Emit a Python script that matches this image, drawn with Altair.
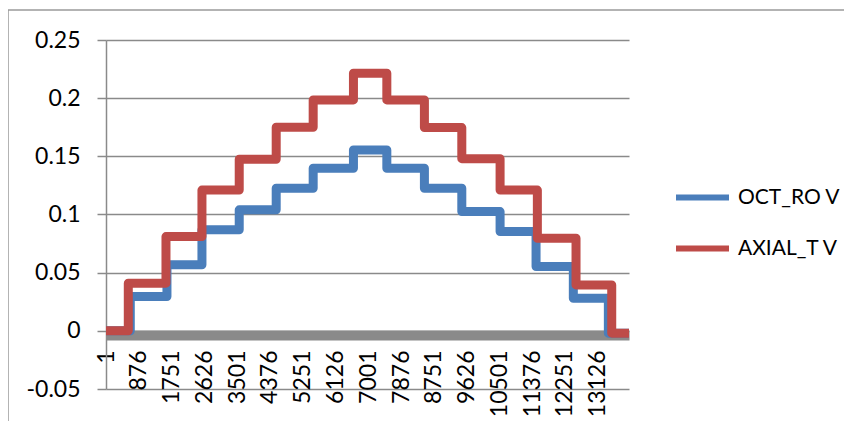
import altair as alt
import pandas as pd

# Series values (step levels and the sample index where each level starts)
oct_idx = [1, 649, 1628, 2562, 3557, 4544, 5531, 6606, 7497, 8500, 9498, 10520, 11480, 12475, 13410, 13961]
oct_val = [0.0, 0.0295, 0.0567, 0.0868, 0.104, 0.1226, 0.1398, 0.1555, 0.1398, 0.1226, 0.1025, 0.0853, 0.0552, 0.028, -0.002, -0.002]

axial_idx = [1, 596, 1602, 2562, 3557, 4544, 5531, 6606, 7497, 8500, 9498, 10520, 11515, 12547, 13500, 13961]
axial_val = [0.0, 0.041, 0.081, 0.121, 0.1475, 0.175, 0.1985, 0.2214, 0.1985, 0.1747, 0.148, 0.121, 0.0796, 0.0395, -0.002, -0.002]

series_names = ["OCT_RO V", "AXIAL_T V"]
series_colors = ["#4A7EBB", "#BE4B48"]

x_tick_labels = [1, 876, 1751, 2626, 3501, 4376, 5251, 6126, 7001, 7876, 8751, 9626, 10501, 11376, 12251, 13126]
y_tick_values = [-0.05, 0.0, 0.05, 0.1, 0.15, 0.2, 0.25]

df_oct = pd.DataFrame({"idx": oct_idx, "val": oct_val, "series": series_names[0]})
df_axial = pd.DataFrame({"idx": axial_idx, "val": axial_val, "series": series_names[1]})

FONT = "Lato"
GRAY = "#8A8A8A"

x_enc = alt.X("idx:Q",
              scale=alt.Scale(domain=[1, 13961], nice=False, zero=False),
              axis=alt.Axis(values=x_tick_labels, format="d", labelAngle=270, title=None,
                            grid=False, ticks=False, tickSize=0, labelPadding=15,
                            offset=-54, domainColor=GRAY, domainWidth=10,
                            labelFont=FONT, labelFontSize=23, labelColor="#000000",
                            labelOverlap=False, labelFlush=False))
y_enc = alt.Y("val:Q",
              scale=alt.Scale(domain=[-0.05, 0.25], nice=False, zero=False),
              axis=alt.Axis(values=y_tick_values, title=None,
                            labelExpr="datum.value < -0.01 ? '-0.05' : format(datum.value, '.2~f')",
                            grid=True, gridColor=GRAY, gridWidth=1.5,
                            ticks=True, tickSize=9, tickColor=GRAY, tickWidth=1.5,
                            domainColor=GRAY, domainWidth=1.5, labelPadding=17,
                            labelFont=FONT, labelFontSize=23, labelColor="#000000"))
color_enc = alt.Color("series:N",
                      scale=alt.Scale(domain=series_names, range=series_colors),
                      legend=alt.Legend(title=None, orient="none", legendX=567, legendY=128,
                                        symbolType="stroke", symbolSize=2809, symbolStrokeWidth=6,
                                        labelFont=FONT, labelFontSize=21, labelColor="#000000",
                                        labelOffset=6, rowPadding=9, padding=0))

def series_line(d):
    return alt.Chart(d).mark_line(
        strokeWidth=9, interpolate="step-after", strokeJoin="round", strokeCap="butt"
    ).encode(x=x_enc, y=y_enc, color=color_enc)

frame_df = pd.DataFrame({"k": [0]})
frame_left = alt.Chart(frame_df).mark_rule(color="#9A9A9A", strokeWidth=1.5).encode(
    x=alt.value(-98), y=alt.value(-30), y2=alt.value(400)
)
frame_top = alt.Chart(frame_df).mark_rule(color="#9A9A9A", strokeWidth=1.5).encode(
    x=alt.value(-98), x2=alt.value(760), y=alt.value(-30)
)

chart = alt.layer(frame_left, frame_top, series_line(df_oct), series_line(df_axial)).properties(
    width=523, height=349,
    autosize=alt.AutoSizeParams(type="none"),
    padding={"left": 98, "top": 32, "right": 215, "bottom": 32},
).configure_view(stroke=None)

chart.save("out.html", embed_options={"renderer": "svg", "actions": False})
